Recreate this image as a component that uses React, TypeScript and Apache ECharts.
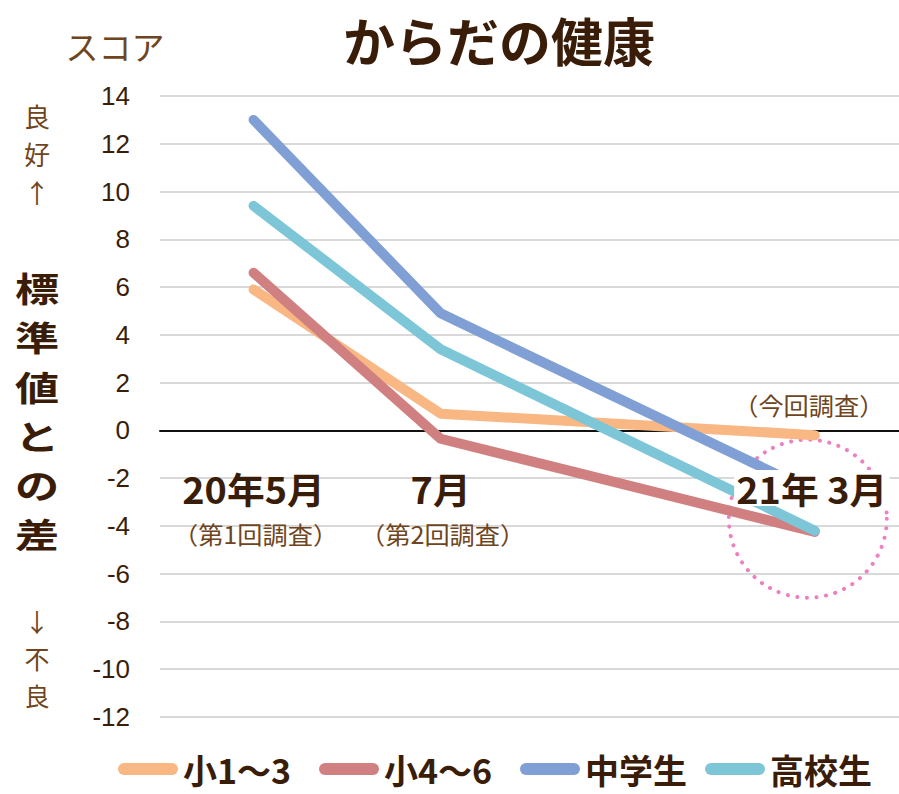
import React, { useEffect, useRef } from "react";
import * as echarts from "echarts";

const categories = ["20年5月", "7月", "21年 3月"];
const surveyNotes = ["（第1回調査）", "（第2回調査）", "（今回調査）"];
const xPositions = [0, 1, 3];
const seriesNames = ["小1～3", "小4～6", "中学生", "高校生"];
const shou13 = [5.9, 0.7, -0.2];
const shou46 = [6.6, -0.35, -4.25];
const chugaku = [13.0, 4.9, -2.6];
const koukou = [9.4, 3.4, -4.2];
const colors = ["#F8B783", "#D08080", "#809FD5", "#7DC6D8"];
const yTicks = { min: -12, max: 14, interval: 2 };

const CJK = '"Noto Sans CJK JP", "Noto Sans", sans-serif';
const DARK = "#3a1d08";
const BROWN = "#6e4520";

export default function App() {
  const ref = useRef<HTMLDivElement>(null);
  useEffect(() => {
    const chart = echarts.init(ref.current!, null, { renderer: "svg" });
    const allData = [shou13, shou46, chugaku, koukou];
    chart.setOption({
      animation: false,
      grid: { left: 160, right: 0, top: 96, bottom: 77 },
      xAxis: {
        type: "value",
        min: -0.5,
        max: 3.45,
        axisLabel: { show: false },
        axisTick: { show: false },
        splitLine: { show: false },
        axisLine: { show: true, onZero: true, lineStyle: { color: "#111", width: 2 } },
      },
      yAxis: {
        type: "value",
        min: yTicks.min,
        max: yTicks.max,
        interval: yTicks.interval,
        axisLine: { show: false },
        axisTick: { show: false },
        axisLabel: {
          margin: 30,
          fontSize: 26,
          color: DARK,
          fontFamily: '"Liberation Sans", Arial, sans-serif',
        },
        splitLine: { lineStyle: { color: "#d9d9d9", width: 2 } },
      },
      legend: seriesNames.map((n, i) => ({
        data: [n],
        left: [118, 319, 520, 705][i],
        top: 749,
        padding: [0, 0, 0, 0],
        itemWidth: 60,
        itemHeight: 12,
        itemGap: 5,
        icon: "path://M6,0 L54,0 A6,6 0 0 1 54,12 L6,12 A6,6 0 0 1 6,0 Z",
        textStyle: { fontSize: 34, lineHeight: 40, fontWeight: "bold", color: DARK, fontFamily: CJK },
      })),
      series: seriesNames.map((n, i) => ({
        name: n,
        type: "line",
        data: xPositions.map((x, j) => [x, allData[i][j]]),
        symbol: "none",
        color: colors[i],
        lineStyle: { width: 10, color: colors[i], cap: "round", join: "round" },
        z: 2 + i,
      })),
    });

    const px = (x: number, y: number) =>
      chart.convertToPixel({ gridIndex: 0 }, [x, y]) as number[];

    const graphics: any[] = [];
    graphics.push({
      type: "text",
      x: 499,
      y: 39,
      style: { text: "からだの健康", fontSize: 52, lineHeight: 56, fontWeight: "bold", fill: DARK, fontFamily: CJK, align: "center", verticalAlign: "middle" },
    });
    graphics.push({
      type: "text",
      x: 115,
      y: 46,
      style: { text: "スコア", fontSize: 33, fill: BROWN, fontFamily: CJK, align: "center", verticalAlign: "middle" },
    });
    graphics.push({
      type: "text",
      x: 37,
      y: 153,
      style: { text: "良\n好\n↑", fontSize: 26, lineHeight: 38, fill: BROWN, fontFamily: CJK, align: "center", verticalAlign: "middle" },
    });
    graphics.push({
      type: "text",
      x: 37,
      y: 658,
      style: { text: "↓\n不\n良", fontSize: 25, lineHeight: 37, fill: BROWN, fontFamily: CJK, align: "center", verticalAlign: "middle" },
    });
    graphics.push({
      type: "text",
      x: 37,
      y: 287 + 2.5 * 49.2,
      scaleX: 1.3,
      style: { text: "標\n準\n値\nと\nの\n差", fontSize: 34, lineHeight: 49.2, fontWeight: "bold", fill: DARK, fontFamily: CJK, align: "center", verticalAlign: "middle" },
    });

    // pink dotted circle around the latest survey
    const last = px(xPositions[2], koukou[2]);
    graphics.push({
      type: "circle",
      shape: { cx: last[0] - 7, cy: last[1] - 12, r: 79 },
      style: { fill: "none", stroke: "#EE7FC0", lineWidth: 4, lineDash: [0.1, 9.5], lineCap: "round" },
      z: 1,
    });

    categories.forEach((c, i) => {
      const p = px(xPositions[i], 0);
      const isLast = i === categories.length - 1;
      graphics.push({
        type: "text",
        x: p[0] - (isLast ? 3 : 0),
        y: 488,
        z: 100,
        scaleX: 1.05,
        style: {
          text: c,
          fontSize: 36,
          fontWeight: "bold",
          fill: DARK,
          fontFamily: CJK,
          align: "center",
          verticalAlign: "middle",
          backgroundColor: isLast ? "#ffffff" : undefined,
          padding: isLast ? [0, 2] : 0,
        },
      });
      graphics.push({
        type: "text",
        x: p[0] + (isLast ? -6 : 2),
        y: isLast ? 404 : 533,
        z: 100,
        scaleX: 1.05,
        style: { text: surveyNotes[i], fontSize: 24, fill: BROWN, fontFamily: CJK, align: "center", verticalAlign: "middle" },
      });
    });

    chart.setOption({ graphic: graphics });
    return () => chart.dispose();
  }, []);

  return (
    <div
      ref={ref}
      style={{ position: "absolute", left: 0, top: 0, width: 899, height: 794, background: "#fff" }}
    />
  );
}
